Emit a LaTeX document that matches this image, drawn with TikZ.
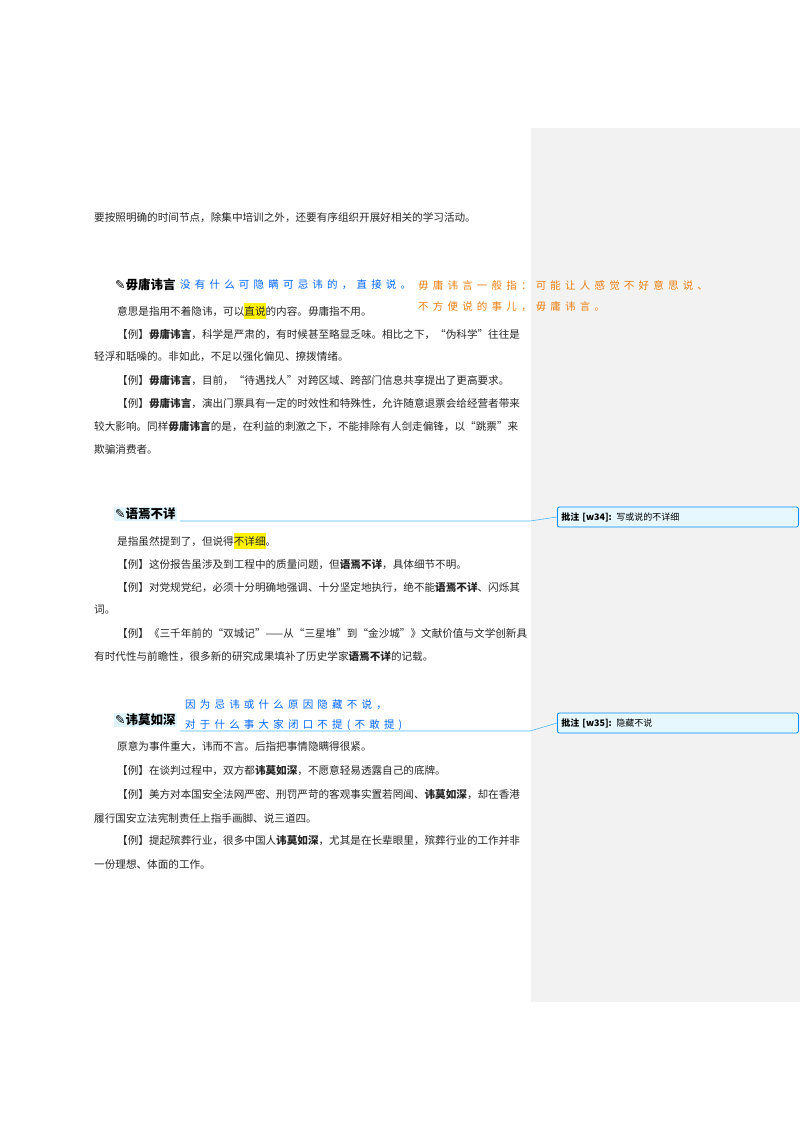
\documentclass[tikz,border=0pt]{standalone}
\usepackage{fontspec}
\setmainfont{Noto Sans CJK SC}
\newfontfamily\hand[LetterSpace=40]{Noto Sans CJK SC}
\newfontfamily\dejavu{DejaVu Sans}
\begin{document}
\begin{tikzpicture}[x=1pt,y=-1pt,
  body/.style={anchor=west,inner sep=0pt,font=\fontsize{10.6}{12}\selectfont,text=black!85},
  head/.style={anchor=west,inner sep=1pt,font=\fontsize{12.5}{14}\selectfont\bfseries},
  hb/.style={anchor=west,inner sep=0pt,font=\hand\fontsize{10.5}{12}\selectfont,text=blue!60!cyan},
  ho/.style={anchor=west,inner sep=0pt,font=\hand\fontsize{10.5}{12}\selectfont,text=orange!70!brown},
  cbox/.style={draw=blue!45!cyan,fill=cyan!10,rounded corners=2pt,line width=0.8pt,anchor=west,minimum width=241pt,minimum height=20pt,inner xsep=4pt,text width=233pt,font=\fontsize{9}{10}\selectfont},
  cline/.style={draw=blue!40!cyan!70,line width=0.6pt}]
\useasboundingbox (0,0) rectangle (800,1132);
\fill[white] (0,0) rectangle (800,1132);
\fill[black!5] (531,128) rectangle (800,1002);
\node[body] (l0) at (94,218) {要按照明确的时间节点，除集中培训之外，还要有序组织开展好相关的学习活动。};
% section 1
\node[head] (h1) at (114,285) {{\dejavu\char"270E}毋庸讳言};
\node[hb] (b1) at (180,285) {没有什么可隐瞒可忌讳的，直接说。};
\node[ho] (o1) at (418,285) {毋庸讳言一般指：可能让人感觉不好意思说、};
\node[ho] (o2) at (418,307) {不方便说的事儿，毋庸讳言。};
\node[body] (a1) at (117,311) {意思是指用不着隐讳，可以\colorbox{yellow}{\hspace{-3pt}直说\hspace{-3pt}}的内容。毋庸指不用。};
\node[body] (a2) at (117,334) {【例】\textbf{毋庸讳言}，科学是严肃的，有时候甚至略显乏味。相比之下，“伪科学”往往是};
\node[body] (a3) at (94,357) {轻浮和聒噪的。非如此，不足以强化偏见、撩拨情绪。};
\node[body] (a4) at (117,380) {【例】\textbf{毋庸讳言}，目前，“待遇找人”对跨区域、跨部门信息共享提出了更高要求。};
\node[body] (a5) at (117,403) {【例】\textbf{毋庸讳言}，演出门票具有一定的时效性和特殊性，允许随意退票会给经营者带来};
\node[body] (a6) at (94,426) {较大影响。同样\textbf{毋庸讳言}的是，在利益的刺激之下，不能排除有人剑走偏锋，以“跳票”来};
\node[body] (a7) at (94,449) {欺骗消费者。};
% section 2
\node[head,fill=cyan!12] (h2) at (114,514) {{\dejavu\char"270E}语焉不详};
\coordinate (k2) at (180,521);
\coordinate (j2) at (530,521);
\node[cbox] (c34) at (557,517) {\textbf{批注 [w34]:} 写或说的不详细};
\draw[cline] (k2) -- (j2) -- (c34.west);
\node[body] (s1) at (117,541) {是指虽然提到了，但说得\colorbox{yellow}{\hspace{-3pt}不详细\hspace{-3pt}}。};
\node[body] (s2) at (117,564) {【例】这份报告虽涉及到工程中的质量问题，但\textbf{语焉不详}，具体细节不明。};
\node[body] (s3) at (117,587) {【例】对党规党纪，必须十分明确地强调、十分坚定地执行，绝不能\textbf{语焉不详}、闪烁其};
\node[body] (s4) at (94,610) {词。};
\node[body] (s5) at (117,633) {【例】《三千年前的“双城记”——从“三星堆”到“金沙城”》文献价值与文学创新具};
\node[body] (s6) at (94,656) {有时代性与前瞻性，很多新的研究成果填补了历史学家\textbf{语焉不详}的记载。};
% section 3
\node[head,fill=cyan!12] (h3) at (114,720) {{\dejavu\char"270E}讳莫如深};
\node[hb] (b2) at (185,705) {因为忌讳或什么原因隐藏不说，};
\node[hb] (b3) at (185,725) {对于什么事大家闭口不提(不敢提)};
\coordinate (k3) at (180,731);
\coordinate (j3) at (530,731);
\node[cbox] (c35) at (557,723) {\textbf{批注 [w35]:} 隐藏不说};
\draw[cline] (k3) -- (j3) -- (c35.west);
\node[body] (t1) at (117,747) {原意为事件重大，讳而不言。后指把事情隐瞒得很紧。};
\node[body] (t2) at (117,771) {【例】在谈判过程中，双方都\textbf{讳莫如深}，不愿意轻易透露自己的底牌。};
\node[body] (t3) at (117,795) {【例】美方对本国安全法网严密、刑罚严苛的客观事实置若罔闻、\textbf{讳莫如深}，却在香港};
\node[body] (t4) at (94,818) {履行国安立法宪制责任上指手画脚、说三道四。};
\node[body] (t5) at (117,841) {【例】提起殡葬行业，很多中国人\textbf{讳莫如深}，尤其是在长辈眼里，殡葬行业的工作并非};
\node[body] (t6) at (94,864) {一份理想、体面的工作。};
\end{tikzpicture}
\end{document}
